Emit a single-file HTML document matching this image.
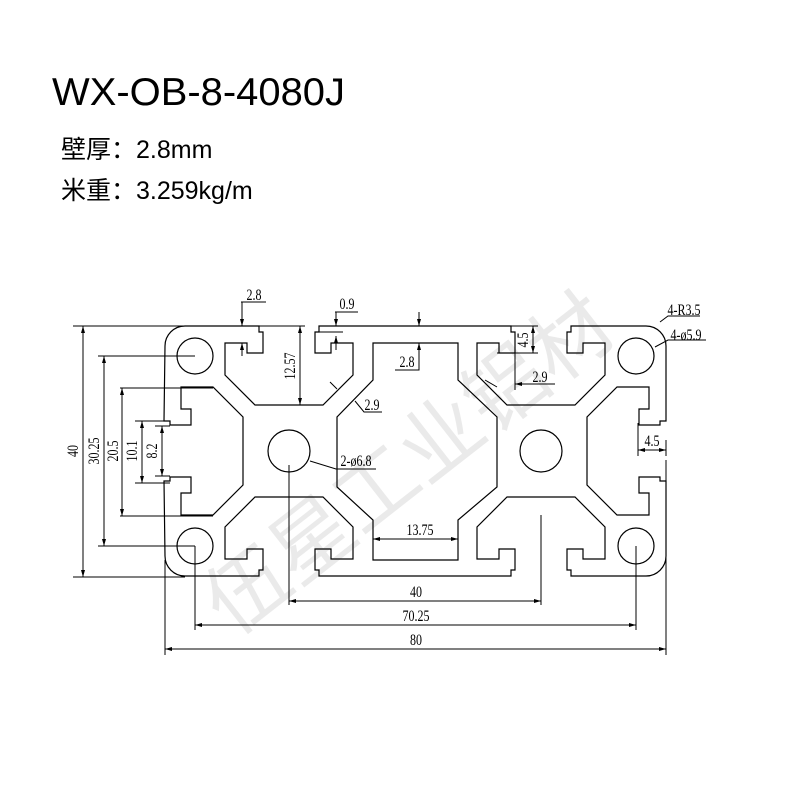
<!DOCTYPE html>
<html><head><meta charset="utf-8"><style>
html,body{margin:0;padding:0;background:#fff;width:800px;height:800px;overflow:hidden}
svg{display:block}
.t{font-family:"Liberation Sans","Noto Sans CJK SC",sans-serif;fill:#000}
.d{font-family:"Liberation Serif","Noto Serif CJK SC",serif;font-size:16px;fill:#000}
</style></head><body>
<svg id="s" width="800" height="800" viewBox="0 0 800 800" xmlns="http://www.w3.org/2000/svg">
<text class="t" x="52" y="105" font-size="39" textLength="293" lengthAdjust="spacingAndGlyphs">WX-OB-8-4080J</text>
<text class="t" x="61" y="158" font-size="25">壁厚：2.8mm</text>
<text class="t" x="61" y="199" font-size="25">米重：3.259kg/m</text>

<g transform="translate(410,465) rotate(-38)" opacity="0.08">
<text x="0" y="27" text-anchor="middle" font-size="82" font-family="'Noto Sans CJK SC',sans-serif" fill="#000">伍星工业铝材</text>
</g>

<path id="prof" fill="none" stroke="#000" stroke-width="1.2" fill-rule="evenodd"/>
<g fill="none" stroke="#000" stroke-width="1.2">
<circle cx="195" cy="356" r="18"/><circle cx="195" cy="546" r="18"/>
<circle cx="636" cy="356" r="18"/><circle cx="636" cy="546" r="18"/>
<circle cx="289" cy="451" r="21"/><circle cx="541" cy="451" r="21"/>
<path d="M373,343 L373,380 L337,417 L337,487 L373,520 L373,560 L458,560 L458,520 L497,487 L497,417 L458,380 L458,343 Z"/>
</g>

<g fill="none" stroke="#000" stroke-width="1">
<path d="M73,326 H305 M73,577 H185 M83,326 V577"/>
<path d="M98,356 H195 M98,546 H195 M104,356 V546"/>
<path d="M120,388 H213 M120,516 H213 M122,388 V516"/>
<path d="M135,421 H170 M135,483 H170 M142,421 V483"/>
<path d="M155,426 H170 M155,476 H170 M162,426 V476"/>
<path d="M241,302 H266 M242,302 V326 M242,343 V356"/>
<path d="M335,312 H358 M336,312 V326 M316,332 H343 M336,336 V350"/>
<path d="M300,326 V405"/>
<path d="M355,401 L364,412 H382 M330,382 L337,389"/>
<path d="M310,461 L336,469 H376"/>
<path d="M419,312 V326 M419,343 V370 H395"/>
<path d="M497,326 H538 M497,353 H538 M533,326 V353"/>
<path d="M515,343 V390 M515,384 H555 M485,380 L497,387"/>
<path d="M660,322 L668,316 H700 M655,347 L668,340 H706"/>
<path d="M638,423 V456 M666,440 V456 M638,450 H666"/>
<path d="M373,539 H458"/>
<path d="M289,465 V605 M541,515 V605 M289,601 H541"/>
<path d="M195,546 V630 M636,546 V630 M195,625 H636"/>
<path d="M165,560 V655 M666,460 V655 M165,649 H666"/>
</g>
<g fill="#000">
<path d="M83,326 l-2,7 h4z M83,577 l-2,-7 h4z"/>
<path d="M104,356 l-2,7 h4z M104,546 l-2,-7 h4z"/>
<path d="M122,388 l-2,7 h4z M122,516 l-2,-7 h4z"/>
<path d="M142,421 l-2,7 h4z M142,483 l-2,-7 h4z"/>
<path d="M162,426 l-2,7 h4z M162,476 l-2,-7 h4z"/>
<path d="M242,326 l-2,-7 h4z M242,343 l-2,7 h4z"/>
<path d="M336,326 l-2,-7 h4z M336,336 l-2,7 h4z"/>
<path d="M300,326 l-2,7 h4z M300,405 l-2,-7 h4z"/>
<path d="M419,326 l-2,-7 h4z M419,343 l-2,7 h4z"/>
<path d="M533,326 l-2,7 h4z M533,353 l-2,-7 h4z"/>
<path d="M515,384 l7,-2 v4z"/>
<path d="M638,450 l7,-2 v4z M666,450 l-7,-2 v4z"/>
<path d="M373,539 l7,-2 v4z M458,539 l-7,-2 v4z"/>
<path d="M289,601 l7,-2 v4z M541,601 l-7,-2 v4z"/>
<path d="M195,625 l7,-2 v4z M636,625 l-7,-2 v4z"/>
<path d="M165,649 l7,-2 v4z M666,649 l-7,-2 v4z"/>
</g>
<g class="d" text-anchor="middle">
<text transform="translate(78,451) rotate(-90) scale(0.75,1)">40</text>
<text transform="translate(99,451) rotate(-90) scale(0.75,1)">30.25</text>
<text transform="translate(118,451) rotate(-90) scale(0.75,1)">20.5</text>
<text transform="translate(137,451) rotate(-90) scale(0.75,1)">10.1</text>
<text transform="translate(157,451) rotate(-90) scale(0.75,1)">8.2</text>
<text transform="translate(295,366) rotate(-90) scale(0.75,1)">12.57</text>
<text transform="translate(528,340) rotate(-90) scale(0.75,1)">4.5</text>
<text transform="translate(254,300) scale(0.75,1)">2.8</text>
<text transform="translate(347,309) scale(0.75,1)">0.9</text>
<text transform="translate(372,410) scale(0.75,1)">2.9</text>
<text transform="translate(356,466) scale(0.75,1)">2-ø6.8</text>
<text transform="translate(407,367) scale(0.75,1)">2.8</text>
<text transform="translate(540,382) scale(0.75,1)">2.9</text>
<text transform="translate(684,315) scale(0.75,1)">4-R3.5</text>
<text transform="translate(686,340) scale(0.75,1)">4-ø5.9</text>
<text transform="translate(652,446) scale(0.75,1)">4.5</text>
<text transform="translate(420,535) scale(0.75,1)">13.75</text>
<text transform="translate(416,597) scale(0.75,1)">40</text>
<text transform="translate(416,621) scale(0.75,1)">70.25</text>
<text transform="translate(416,645) scale(0.75,1)">80</text>
</g>
</svg>
<script>
(function(){
var slot=[[-30,-125],[-30,-119],[-26,-119],[-26,-98],[-42,-98],[-42,-108],[-64,-108],[-64,-76],[-34,-46],[34,-46],[64,-76],[64,-108],[42,-108],[42,-98],[26,-98],[26,-119],[30,-119],[30,-125]];
function rot(p,s){var x=p[0],y=p[1];for(var i=0;i<s;i++){var t=x;x=-y;y=t;}return [x,y];}
function sl(cx,cy,s){return slot.map(function(p){var q=rot(p,s);return (cx+q[0])+','+(cy+q[1]);}).join(' L');}
var L=165,R=666,T=326,B=576,r=20,cy=451;
var d='M'+(L+r)+','+T+' L'+sl(289,cy,0)+' L'+sl(541,cy,0)+' L'+(R-r)+','+T+
' A'+r+','+r+' 0 0 1 '+R+','+(T+r)+' L'+sl(541,cy,1)+' L'+R+','+(B-r)+
' A'+r+','+r+' 0 0 1 '+(R-r)+','+B+' L'+sl(541,cy,2)+' L'+sl(289,cy,2)+' L'+(L+r)+','+B+
' A'+r+','+r+' 0 0 1 '+L+','+(B-r)+' L'+sl(289,cy,3)+' L'+L+','+(T+r)+
' A'+r+','+r+' 0 0 1 '+(L+r)+','+T+' Z';
document.getElementById('prof').setAttribute('d',d);
})();
</script>
</body></html>
